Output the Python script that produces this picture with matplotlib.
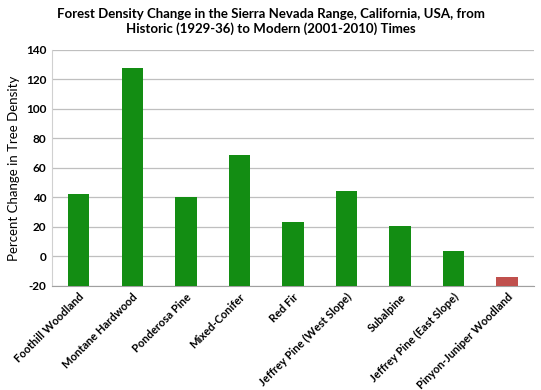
import numpy as np
import matplotlib.pyplot as plt

categories = ['Foothill Woodland', 'Montane Hardwood', 'Ponderosa Pine', 'Mixed-Conifer',
              'Red Fir', 'Jeffrey Pine (West Slope)', 'Subalpine',
              'Jeffrey Pine (East Slope)', 'Pinyon-Juniper Woodland']
values = [42, 128, 40, 68.5, 23, 44, 20.3, 3.8, -14]
yticks = [-20, 0, 20, 40, 60, 80, 100, 120, 140]

plt.rcParams['font.family'] = ['Lato', 'DejaVu Sans']

fig = plt.figure(figsize=(5.41, 3.9), dpi=100)
ax = fig.add_axes([0.096, 0.267, 0.891, 0.605])

base = yticks[0]
x = np.arange(len(categories))
colors = ['#138D13' if v >= 0 else '#C0504D' for v in values]
ax.bar(x, np.array(values) - base, bottom=base, width=0.4, color=colors, zorder=3)

ax.set_xlim(-0.5, len(categories) - 0.5)
ax.set_ylim(yticks[0], yticks[-1])
ax.set_yticks(yticks)
ax.set_yticklabels([str(t) for t in yticks], fontweight='bold', fontsize=8.5)
ax.set_xticks(x)
ax.set_xticklabels(categories, rotation=45, ha='right', rotation_mode='anchor',
                   fontweight='bold', fontsize=8)
ax.tick_params(length=0, pad=4)
ax.grid(axis='y', color='#BFBFBF', linewidth=0.9, zorder=0)
for s in ['top', 'right']:
    ax.spines[s].set_visible(False)
ax.spines['left'].set_color('#D0D0D0')
ax.spines['bottom'].set_color('#A0A0A0')

ax.set_ylabel('Percent Change in Tree Density', fontsize=9.5)
fig.suptitle('Forest Density Change in the Sierra Nevada Range, California, USA, from\n'
             'Historic (1929-36) to Modern (2001-2010) Times',
             fontweight='bold', fontsize=9.5, y=0.98, x=0.5)

fig.savefig('out.png', dpi=100)
